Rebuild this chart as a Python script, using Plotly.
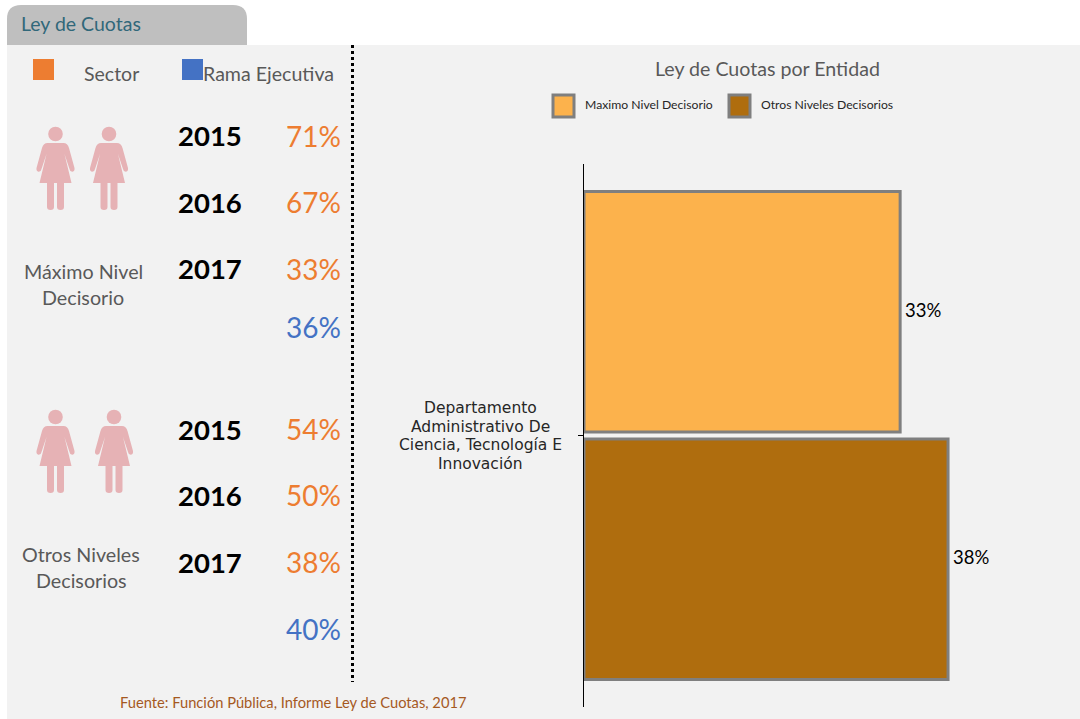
import plotly.graph_objects as go

entity = "Departamento<br>Administrativo De<br>Ciencia, Tecnología E<br>Innovación"
max_level = [33]
other_level = [38]
years = ["2015", "2016", "2017"]
max_sector = [71, 67, 33]
max_exec = 36
other_sector = [54, 50, 38]
other_exec = 40

W, H = 1080, 719
L, R, T, B = 584, 1080, 164, 707
FONT = "Lato"
ORANGE, BLUE, GREY = "#ED7D31", "#4472C4", "#595959"
PINK = "#E6B2B5"
BAR1, BAR2, EDGE = "#FCB24C", "#AF6D0E", "#7F7F7F"
PANEL = "#F2F2F2"


def px(x):
    return (x - L) / (R - L)


def py(y):
    return 1 - (y - T) / (B - T)


shapes, notes = [], []


def rect(x0, y0, x1, y1, fill, line=None, lw=0):
    shapes.append(dict(type="rect", xref="paper", yref="paper", layer="below",
                       x0=px(x0), x1=px(x1), y0=py(y0), y1=py(y1), fillcolor=fill,
                       line=dict(color=line or fill, width=lw)))


def text(s, x, y, size, color=GREY, anchor="left", bold=False, family=FONT):
    notes.append(dict(text=f"<b>{s}</b>" if bold else s, xref="paper", yref="paper",
                      x=px(x), y=py(y), xanchor=anchor, yanchor="middle", showarrow=False,
                      font=dict(family=family, size=size, color=color)))


def path(cmds, cx=0, cy=0, fill=PINK):
    out = []
    for c in cmds:
        if len(c) == 1:
            out.append(c[0])
        else:
            pts = [f"{px(cx + c[i])},{py(cy + c[i + 1])}" for i in range(1, len(c), 2)]
            out.append(c[0] + " ".join(pts))
    shapes.append(dict(type="path", xref="paper", yref="paper", layer="below",
                       path=" ".join(out), fillcolor=fill, line=dict(width=0)))


def woman(cx, cy):
    shapes.append(dict(type="circle", xref="paper", yref="paper", layer="below",
                       x0=px(cx - 7.3), x1=px(cx + 7.3), y0=py(cy - 7.3), y1=py(cy + 7.3),
                       fillcolor=PINK, line=dict(width=0)))
    path([("M", -8, 9), ("L", 8, 9), ("Q", 12, 9, 13.5, 14), ("L", 19, 34),
          ("Q", 19.5, 37, 17, 37.8), ("Q", 14.5, 38, 14, 35), ("L", 9, 20), ("L", 16, 49),
          ("L", -16, 49), ("L", -9, 20), ("L", -14, 35), ("Q", -14.5, 38, -17, 37.8),
          ("Q", -19.5, 37, -19, 34), ("L", -13.5, 14), ("Q", -12, 9, -8, 9), ("Z",)], cx, cy)
    for a, b in ((-8.5, -1.5), (1.5, 8.5)):
        m = (a + b) / 2
        path([("M", a, 48), ("L", b, 48), ("L", b, 73), ("Q", b, 76, m, 76),
              ("Q", a, 76, a, 73), ("Z",)], cx, cy)


# panel and tab
rect(7, 45, 1080, 719, PANEL)
path([("M", 7, 45), ("L", 7, 19), ("Q", 7, 5, 21, 5), ("L", 233, 5), ("Q", 247, 5, 247, 19),
      ("L", 247, 45), ("Z",)], fill="#BFBFBF")
text("Ley de Cuotas", 19, 23, 19.5, "#31687A")

# left legend
rect(33, 59, 54, 80, ORANGE)
rect(182, 59, 203, 80, BLUE)
text("Sector", 82, 73.5, 19.5)
text("Rama Ejecutiva", 201, 73.5, 19.6)

# divider
shapes.append(dict(type="line", xref="paper", yref="paper", x0=px(352.5), x1=px(352.5),
                   y0=py(45), y1=py(682), line=dict(color="black", width=3, dash="dot")))

for c in [(55.5, 134), (109, 134), (55.5, 417), (114, 417)]:
    woman(*c)

text("Máximo Nivel", 83.5, 271, 19.7, anchor="center")
text("Decisorio", 83, 297, 19.7, anchor="center")
text("Otros Niveles", 81, 554, 19.7, anchor="center")
text("Decisorios", 81, 580, 19.7, anchor="center")

for ys, yp, vals in (([135.5, 202, 268], [135.5, 202, 269], max_sector),
                     ([429, 495, 562], [429, 495, 562], other_sector)):
    for yr, y1, y2, v in zip(years, ys, yp, vals):
        text(yr, 176, y1, 27.5, "black", bold=True)
        text(f"{v}%", 342.5, y2, 28, ORANGE, anchor="right")
text(f"{max_exec}%", 342.5, 327, 28, BLUE, anchor="right")
text(f"{other_exec}%", 342.5, 629, 28, BLUE, anchor="right")

# right header and legend
text("Ley de Cuotas por Entidad", 767, 68.5, 19.6, anchor="center")
rect(553, 95, 574, 117, BAR1, EDGE, 3)
rect(729, 95, 750, 117, BAR2, EDGE, 3)
text("Maximo Nivel Decisorio", 583, 104.5, 12.2, "#262626")
text("Otros Niveles Decisorios", 759, 104.5, 12.2, "#262626")

text("Fuente: Función Pública, Informe Ley de Cuotas, 2017", 118, 701.5, 14.7, "#A5591F")

# category label, centred line by line
for line, y in zip(entity.split("<br>"), [408, 427, 445, 464]):
    text(line, 480.5, y, 15.5, "#262626", anchor="center", family="DejaVu Sans")

# bar value labels, tied to the data on the x axis
for v, y in ((max_level[0], 310), (other_level[0], 557)):
    notes.append(dict(text=f"{v}%", xref="x", yref="paper", x=v, y=py(y), xanchor="left",
                      yanchor="middle", xshift=3, showarrow=False,
                      font=dict(family=FONT, size=18.5, color="black")))

fig = go.Figure()
fig.add_bar(y=[entity], x=other_level, orientation="h", name="Otros Niveles Decisorios",
            marker=dict(color=BAR2, line=dict(color=EDGE, width=3)))
fig.add_bar(y=[entity], x=max_level, orientation="h", name="Maximo Nivel Decisorio",
            marker=dict(color=BAR1, line=dict(color=EDGE, width=3)))

fig.update_layout(
    width=W, height=H, autosize=False, showlegend=False,
    margin=dict(l=L, r=W - R, t=T, b=H - B, pad=0),
    paper_bgcolor="white", plot_bgcolor="rgba(0,0,0,0)",
    barmode="group", bargap=0.088, bargroupgap=0.0283,
    shapes=shapes, annotations=notes,
    font=dict(family=FONT),
    xaxis=dict(range=[0, (R - L) / 9.58], visible=False, fixedrange=True),
    yaxis=dict(type="category", categoryorder="array", categoryarray=[entity],
               showticklabels=False, showline=True, linecolor="black", linewidth=1,
               ticks="outside", ticklen=5, tickcolor="black", showgrid=False, fixedrange=True),
)

fig.write_html("out.html", config=dict(displayModeBar=False),
               post_script="document.body.style.margin='0';document.body.style.overflow='hidden';")
